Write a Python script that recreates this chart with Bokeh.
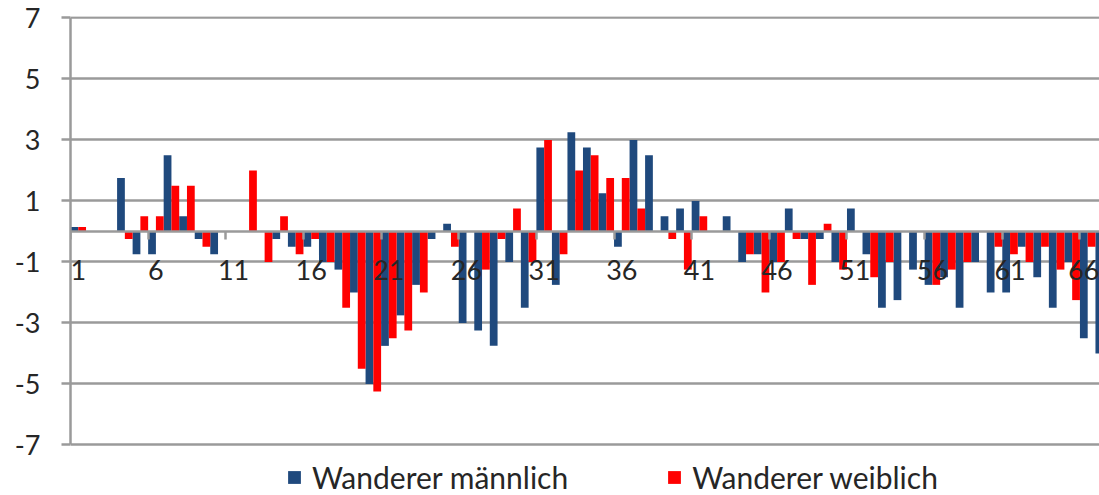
from bokeh.plotting import figure
from bokeh.models import (ColumnDataSource, FixedTicker, Legend, LegendItem, Range1d)
from bokeh.transform import dodge
from bokeh.embed import file_html
from bokeh.resources import INLINE

# ---- data ----
categories = list(range(1, 68))
maennlich = [0.15, 0, 0, 1.75, -0.75, -0.75, 2.5, 0.5, -0.25, -0.75,
             0, 0, 0, -0.25, -0.5, -0.5, -1.0, -1.25, -2.0, -5.0,
             -3.75, -2.75, -1.75, -0.25, 0.25, -3.0, -3.25, -3.75, -1.0, -2.5,
             2.75, -1.75, 3.25, 2.75, 1.25, -0.5, 3.0, 2.5, 0.5, 0.75,
             1.0, 0, 0.5, -1.0, -0.75, -1.0, 0.75, -0.25, -0.25, -1.0,
             0.75, -0.75, -2.5, -2.25, -1.25, -1.75, -1.5, -2.5, -1.0, -2.0,
             -2.0, -0.5, -1.5, -2.5, -1.0, -3.5, -4.0]
weiblich = [0.15, 0, 0, -0.25, 0.5, 0.5, 1.5, 1.5, -0.5, 0,
            0, 2.0, -1.0, 0.5, -0.75, -0.25, -1.0, -2.5, -4.5, -5.25,
            -3.5, -3.25, -2.0, 0, -0.5, 0, -1.25, -0.25, 0.75, -1.0,
            3.0, -0.75, 2.0, 2.5, 1.75, 1.75, 0.75, 0, -0.25, -1.25,
            0.5, 0, 0, -0.75, -2.0, -1.0, -0.25, -1.75, 0.25, -1.25,
            0, -1.5, -1.0, 0, 0, -1.75, -1.25, -1.0, 0, -0.5,
            -0.75, -1.0, -0.5, -1.25, -2.25, -0.5, 0]
x_tick_labels = [1, 6, 11, 16, 21, 26, 31, 36, 41, 46, 51, 56, 61, 66]
x_tick_marks = [0.5 + 5 * k for k in range(14)]
y_ticks = [-7, -5, -3, -1, 1, 3, 5, 7]
y_tick_labels = ["-7", "-5", "-3", "-1", "1", "3", "5", "7"]
series_names = ["Wanderer männlich", "Wanderer weiblich"]
colors = ["#1F497D", "#FF0000"]

src = ColumnDataSource(dict(cat=categories, m=maennlich, w=weiblich))

FONT = "Lato"
GRID = "#9A9A9A"
TEXT = "#262626"

p = figure(width=1099, height=495, output_backend="svg", toolbar_location=None,
           x_range=Range1d(0.5, 66.76), y_range=Range1d(-8.656, 7.049),
           min_border_left=70, min_border_right=0, min_border_top=16,
           min_border_bottom=0, outline_line_color=None)

r1 = p.vbar(x=dodge("cat", -0.25), top="m", width=0.5,
            source=src, fill_color=colors[0], line_color=None)
r2 = p.vbar(x=dodge("cat", 0.25), top="w", width=0.5,
            source=src, fill_color=colors[1], line_color=None)

# y axis
ya = p.yaxis[0]
ya.ticker = FixedTicker(ticks=y_ticks)
ya.major_label_overrides = dict(zip(y_ticks, y_tick_labels))
ya.bounds = (y_ticks[0], y_ticks[-1])
ya.axis_line_color = GRID
ya.axis_line_width = 2.5
ya.major_tick_line_color = GRID
ya.major_tick_line_width = 2.5
ya.major_tick_out = 9
ya.major_tick_in = 0
ya.minor_tick_line_color = None
ya.major_label_standoff = 21
ya.major_label_text_font = FONT
ya.major_label_text_font_size = "27px"
ya.major_label_text_color = TEXT

# x axis crossing at zero
xa = p.xaxis[0]
xa.fixed_location = 0
xa.ticker = FixedTicker(ticks=x_tick_labels, minor_ticks=x_tick_marks)
xa.axis_line_color = GRID
xa.axis_line_width = 2.5
xa.major_tick_line_color = None
xa.major_tick_out = 0
xa.major_tick_in = 0
xa.minor_tick_line_color = GRID
xa.minor_tick_line_width = 2.5
xa.minor_tick_out = 8
xa.minor_tick_in = 0
xa.major_label_standoff = 21
xa.major_label_text_font = FONT
xa.major_label_text_font_size = "27px"
xa.major_label_text_color = TEXT

# grid
p.xgrid.grid_line_color = None
p.ygrid.ticker = FixedTicker(ticks=y_ticks)
p.ygrid.grid_line_color = GRID
p.ygrid.grid_line_width = 2.5

legend = Legend(items=[LegendItem(label=series_names[0], renderers=[r1]),
                       LegendItem(label=series_names[1], renderers=[r2])],
                orientation="horizontal", location=(216, 0),
                border_line_color=None, background_fill_alpha=0,
                padding=0, margin=0, spacing=98, label_standoff=10,
                glyph_width=16, glyph_height=16,
                label_text_font=FONT, label_text_font_size="30px",
                label_text_color=TEXT)
p.add_layout(legend)

open("out.html", "w").write(file_html(p, INLINE))
